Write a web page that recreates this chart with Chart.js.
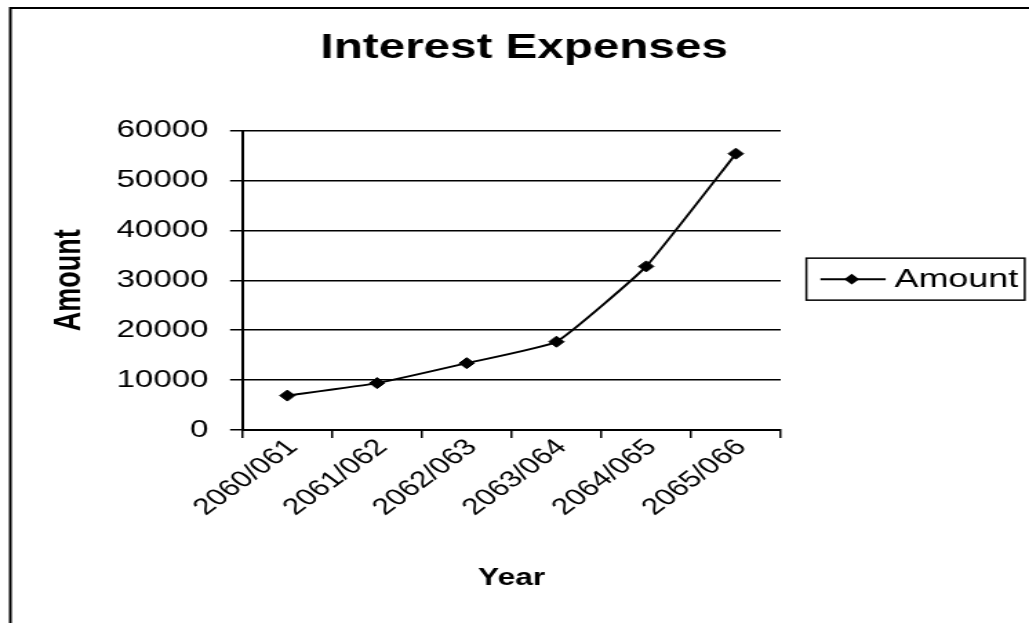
<!DOCTYPE html>
<html>
<head>
<meta charset="utf-8">
<title>Interest Expenses</title>
<script src="https://cdn.jsdelivr.net/npm/chart.js@4"></script>
<style>
  html, body { margin: 0; padding: 0; background: #fff; }
  #chart { display: block; }
</style>
</head>
<body>
<!-- canvas is drawn 746px wide and widened to 1029px by its inline style -->
<canvas id="chart" width="746" height="623" style="width:1029px;height:623px"></canvas>
<script>
const years = ['2060/061', '2061/062', '2062/063', '2063/064', '2064/065', '2065/066'];
const amounts = [6900, 9400, 13400, 17700, 32800, 55400];
const amountTicks = [0, 10000, 20000, 30000, 40000, 50000, 60000];
const seriesName = 'Amount';

Chart.defaults.font.family = '"Liberation Sans", Arial, sans-serif';
Chart.defaults.color = '#000';

// outer frame: only the top and left edges fall inside the canvas
const framePlugin = {
  id: 'frame',
  beforeDraw(chart) {
    const ctx = chart.ctx;
    ctx.save();
    ctx.fillStyle = '#fff';
    ctx.fillRect(0, 0, chart.width, chart.height);
    ctx.strokeStyle = '#000';
    ctx.lineWidth = 2;
    ctx.beginPath();
    ctx.moveTo(7.5, chart.height);
    ctx.lineTo(7.5, 8);
    ctx.lineTo(chart.width, 8);
    ctx.stroke();
    ctx.restore();
  }
};

// boxed legend on the right, added as its own layout box
const sideLegend = {
  id: 'sideLegend',
  beforeInit(chart) {
    const box = {
      position: 'right',
      weight: 0,
      fullSize: false,
      options: {},
      top: 0, left: 0, right: 0, bottom: 0, width: 0, height: 0,
      isHorizontal() { return false; },
      update(maxWidth, maxHeight) {
        this.width = 180;
        this.height = maxHeight;
      },
      draw() {
        const ctx = chart.ctx;
        const ds = chart.data.datasets[0];
        const area = chart.chartArea;
        const mid = (area.top + area.bottom) / 2 - 1.2;
        const x0 = this.left + 18.6;
        ctx.save();
        ctx.strokeStyle = '#000';
        ctx.fillStyle = '#000';
        ctx.lineWidth = 1.5;
        ctx.strokeRect(x0, mid - 21, 158.3, 42);
        ctx.lineWidth = ds.borderWidth;
        ctx.beginPath();
        ctx.moveTo(x0 + 10.2, mid);
        ctx.lineTo(x0 + 57.5, mid);
        ctx.stroke();
        Chart.helpers.drawPoint(ctx, { pointStyle: ds.pointStyle, radius: 4, borderWidth: 1, rotation: 0 }, x0 + 32.9, mid);
        ctx.font = '26px "Liberation Sans", Arial, sans-serif';
        ctx.textBaseline = 'middle';
        ctx.textAlign = 'left';
        ctx.fillText(ds.label, x0 + 64, mid + 1);
        ctx.restore();
      }
    };
    Chart.layouts.addBox(chart, box);
  }
};

new Chart(document.getElementById('chart'), {
  type: 'line',
  data: {
    labels: years,
    datasets: [{
      label: seriesName,
      data: amounts,
      borderColor: '#000',
      backgroundColor: '#000',
      borderWidth: 2,
      pointStyle: 'rectRot',
      pointRadius: 5.5,
      pointBorderWidth: 1,
      pointBackgroundColor: '#000',
      tension: 0.12,
      fill: false
    }]
  },
  options: {
    responsive: false,
    devicePixelRatio: 1,
    animation: false,
    events: [],
    layout: { padding: { left: 14, right: 0, top: 0, bottom: 0 } },
    plugins: {
      legend: { display: false },
      tooltip: { enabled: false },
      title: {
        display: true,
        text: 'Interest Expenses',
        color: '#000',
        font: { size: 34.5, weight: 'bold' },
        padding: { top: 28.1, bottom: 61.2 }
      }
    },
    scales: {
      x: {
        offset: true,
        afterFit(scale) { scale.height = 193; },
        grid: {
          offset: true,
          drawOnChartArea: false,
          drawTicks: true,
          tickLength: 8,
          color: '#000',
          lineWidth: 1.5
        },
        border: { display: true, color: '#000', width: 2 },
        ticks: {
          autoSkip: false,
          minRotation: 45,
          maxRotation: 45,
          padding: -4,
          labelOffset: 4,
          color: '#000',
          font: { size: 23 }
        },
        title: {
          display: true,
          text: 'Year',
          color: '#000',
          font: { size: 23, weight: 'bold' },
          padding: { top: 0, bottom: 30.2 }
        }
      },
      y: {
        min: 0,
        max: 60000,
        afterFit(scale) { scale.width = 161.8; },
        afterBuildTicks(scale) {
          scale.ticks = amountTicks.map(v => ({ value: v }));
        },
        grid: {
          color: '#000',
          lineWidth: 1.5,
          tickLength: 9
        },
        border: { display: true, color: '#000', width: 2 },
        ticks: {
          padding: 15.6,
          color: '#000',
          font: { size: 24 },
          callback: value => String(value)
        },
        title: {
          display: true,
          text: 'Amount',
          color: '#000',
          font: { size: 27, weight: 'bold' },
          padding: { top: 20.5, bottom: 0 }
        }
      }
    }
  },
  plugins: [framePlugin, sideLegend]
});
</script>
</body>
</html>
